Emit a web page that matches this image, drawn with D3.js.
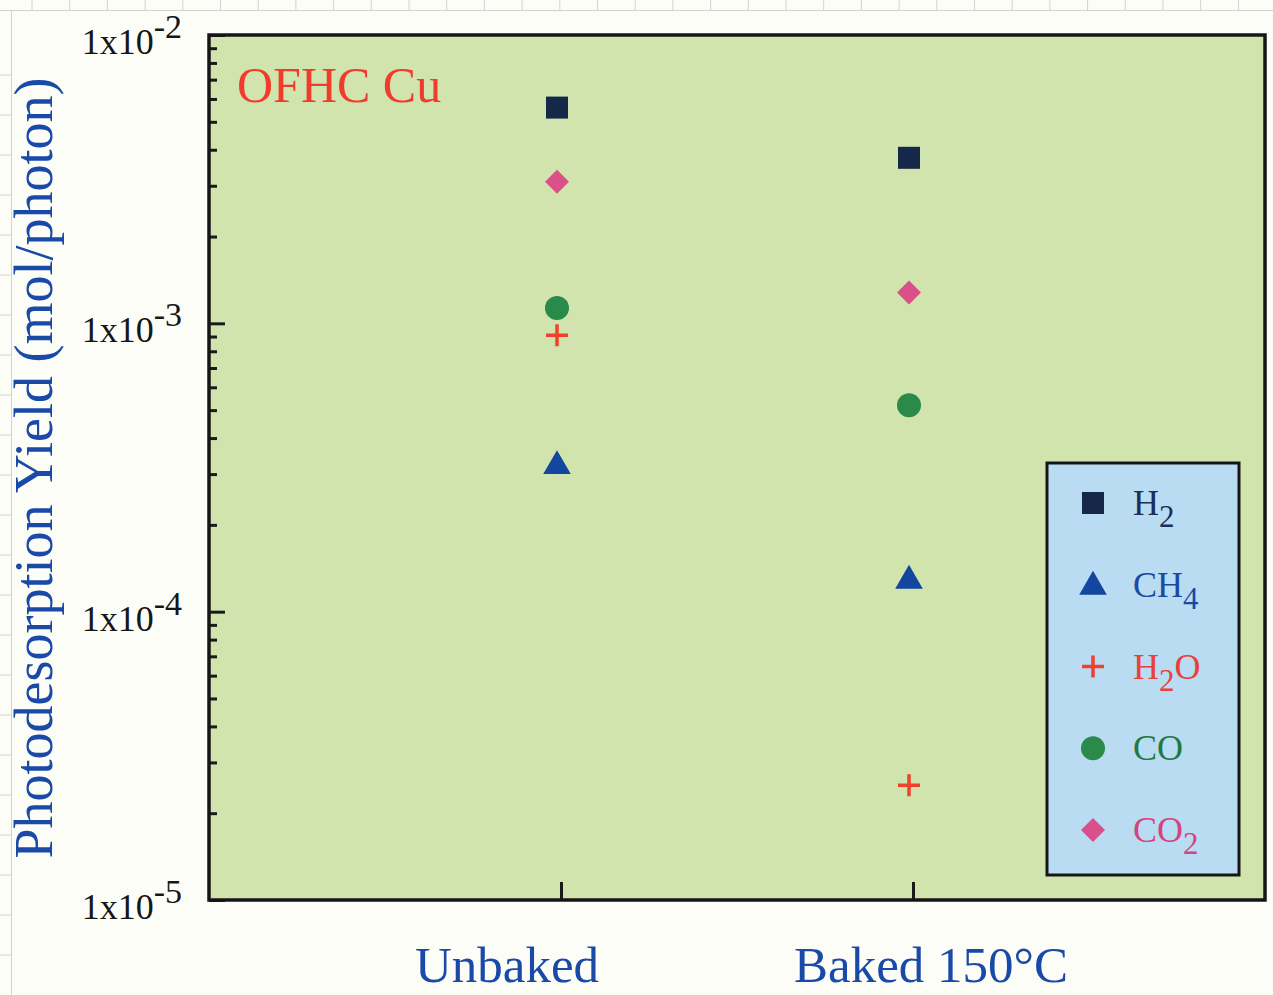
<!DOCTYPE html>
<html lang="en">
<head>
<meta charset="UTF-8">
<title>OFHC Cu photodesorption</title>
<script src="https://d3js.org/d3.v7.min.js"></script>
<style>
  body { margin: 0; background: #fdfdf8; }
  svg { display: block; }
  text { font-family: "Liberation Serif", "DejaVu Serif", serif; }
</style>
</head>
<body>
<script>
// data
var conditions = ["Unbaked", "Baked 150°C"];
var gases = ["H2", "CH4", "H2O", "CO", "CO2"];
var unbaked = [5.6e-3, 3.25e-4, 9.1e-4, 1.13e-3, 3.1e-3];
var baked = [3.75e-3, 1.3e-4, 2.5e-5, 5.2e-4, 1.28e-3];
var decades = [1e-5, 1e-4, 1e-3, 1e-2];

var W = 1273, H = 995;
var pL = 209, pR = 1265, pT = 35, pB = 900;

var markColor = {H2: "#16284a", CH4: "#13469e", H2O: "#f0402e", CO: "#2a8a4a", CO2: "#d9508a"};
var textColor = {H2: "#1b2f5c", CH4: "#1a4aa2", H2O: "#e8413a", CO: "#1f7a42", CO2: "#d2457e"};

var svg = d3.select("body").append("svg")
    .attr("width", W)
    .attr("height", H);

// faint graph-paper marks along top and left edge of the scan
var paper = svg.append("g").attr("stroke", "#d2d2d2").attr("stroke-width", 1);
paper.append("line").attr("x1", 0).attr("x2", W).attr("y1", 10.5).attr("y2", 10.5);
paper.selectAll(".vt").data(d3.range(32, W, 37.7)).enter().append("line")
    .attr("x1", function(d) { return d; }).attr("x2", function(d) { return d; })
    .attr("y1", 0).attr("y2", 10);
paper.append("line").attr("x1", 11.5).attr("x2", 11.5).attr("y1", 10).attr("y2", H);
paper.selectAll(".hl").data(d3.range(75, H, 40)).enter().append("line")
    .attr("x1", 0).attr("x2", 11).attr("y1", function(d) { return d; }).attr("y2", function(d) { return d; });

var x = d3.scalePoint().domain(conditions).range([pL, pR]).padding(1);
var y = d3.scaleLog().domain([1e-5, 1e-2]).range([pB, pT]);

// plot background
svg.append("rect")
    .attr("x", pL).attr("y", pT)
    .attr("width", pR - pL).attr("height", pB - pT)
    .attr("fill", "#d2e4ae");

function styleTicks(g) {
    g.select(".domain").remove();
    g.selectAll("line").attr("stroke", "#1a1a1a").attr("stroke-width", 3);
}

// y axis ticks (inside)
var minor = y.ticks().filter(function(v) { return decades.indexOf(v) < 0; });
svg.append("g")
    .attr("transform", "translate(" + pL + ",0)")
    .call(d3.axisLeft(y).tickValues(minor).tickSize(-8).tickFormat(""))
    .call(styleTicks);
svg.append("g")
    .attr("transform", "translate(" + pL + ",0)")
    .call(d3.axisLeft(y).tickValues(decades).tickSize(-16).tickFormat(""))
    .call(styleTicks);

// x axis ticks (inside)
svg.append("g")
    .attr("transform", "translate(0," + pB + ")")
    .call(d3.axisBottom(x).tickSize(-18).tickFormat(""))
    .call(styleTicks);

// frame
svg.append("rect")
    .attr("x", pL).attr("y", pT)
    .attr("width", pR - pL).attr("height", pB - pT)
    .attr("fill", "none").attr("stroke", "#161616").attr("stroke-width", 3.5);

// y tick labels 1x10^n
var lab = svg.append("g").selectAll("text").data(decades).enter().append("text")
    .attr("x", 182)
    .attr("y", function(d) { return y(d) + 19; })
    .attr("text-anchor", "end")
    .attr("fill", "#161616")
    .attr("font-size", 36);
lab.append("tspan").text("1x10");
lab.append("tspan").attr("dy", -16).attr("font-size", 34)
    .text(function(d) { return String(Math.round(Math.log10(d))); });

// x category labels
var xShift = {"Unbaked": -54, "Baked 150°C": 18};
svg.append("g").selectAll("text").data(conditions).enter().append("text")
    .attr("x", function(d) { return x(d) + xShift[d]; })
    .attr("y", 982)
    .attr("text-anchor", "middle")
    .attr("fill", "#1a4aa8")
    .attr("font-size", 51)
    .text(function(d) { return d; });

// y title
svg.append("text")
    .attr("transform", "translate(52,468) rotate(-90)")
    .attr("text-anchor", "middle")
    .attr("fill", "#1a4aa8")
    .attr("font-size", 54)
    .text("Photodesorption Yield (mol/photon)");

svg.append("text")
    .attr("x", 237).attr("y", 102)
    .attr("fill", "#f03c2c")
    .attr("font-size", 50)
    .text("OFHC Cu");

// marker drawing
function drawMark(g, gas) {
    var c = markColor[gas];
    if (gas === "H2") {
        g.append("rect").attr("x", -11).attr("y", -11).attr("width", 22).attr("height", 22).attr("fill", c);
    } else if (gas === "CH4") {
        g.append("path").attr("d", d3.symbol(d3.symbolTriangle, 330)()).attr("fill", c).attr("transform", "translate(0,2)");
    } else if (gas === "H2O") {
        g.append("path").attr("d", "M-11,0H11M0,-11V11").attr("stroke", c).attr("stroke-width", 3.5).attr("fill", "none");
    } else if (gas === "CO") {
        g.append("circle").attr("r", 12).attr("fill", c);
    } else {
        g.append("rect").attr("x", -8.5).attr("y", -8.5).attr("width", 17).attr("height", 17)
            .attr("transform", "rotate(45)").attr("fill", c);
    }
}

var points = [];
gases.forEach(function(g, i) {
    points.push({gas: g, cond: conditions[0], v: unbaked[i]});
    points.push({gas: g, cond: conditions[1], v: baked[i]});
});

svg.append("g").selectAll("g").data(points).enter().append("g")
    .attr("transform", function(d) { return "translate(" + (x(d.cond) - 4) + "," + y(d.v) + ")"; })
    .each(function(d) { drawMark(d3.select(this), d.gas); });

// legend
var lg = svg.append("g");
lg.append("rect")
    .attr("x", 1047).attr("y", 463).attr("width", 192).attr("height", 412)
    .attr("fill", "#b9dcf2").attr("stroke", "#161616").attr("stroke-width", 3);

var legendLabel = {
    H2: [["H", 0], ["2", 1]],
    CH4: [["CH", 0], ["4", 1]],
    H2O: [["H", 0], ["2", 1], ["O", -1]],
    CO: [["CO", 0]],
    CO2: [["CO", 0], ["2", 1]]
};
var rowY = d3.scalePoint().domain(gases).range([503, 830]);

var item = lg.selectAll(".item").data(gases).enter().append("g")
    .attr("transform", function(d) { return "translate(0," + rowY(d) + ")"; });
item.append("g").attr("transform", "translate(1093,0)")
    .each(function(d) { drawMark(d3.select(this), d); });
var t = item.append("text")
    .attr("x", 1133).attr("y", 12)
    .attr("font-size", 36)
    .attr("fill", function(d) { return textColor[d]; });
t.selectAll("tspan").data(function(d) { return legendLabel[d]; }).enter().append("tspan")
    .attr("font-size", function(p) { return p[1] === 1 ? 31 : 36; })
    .attr("dy", function(p) { return p[1] * 12; })
    .text(function(p) { return p[0]; });
</script>
</body>
</html>
